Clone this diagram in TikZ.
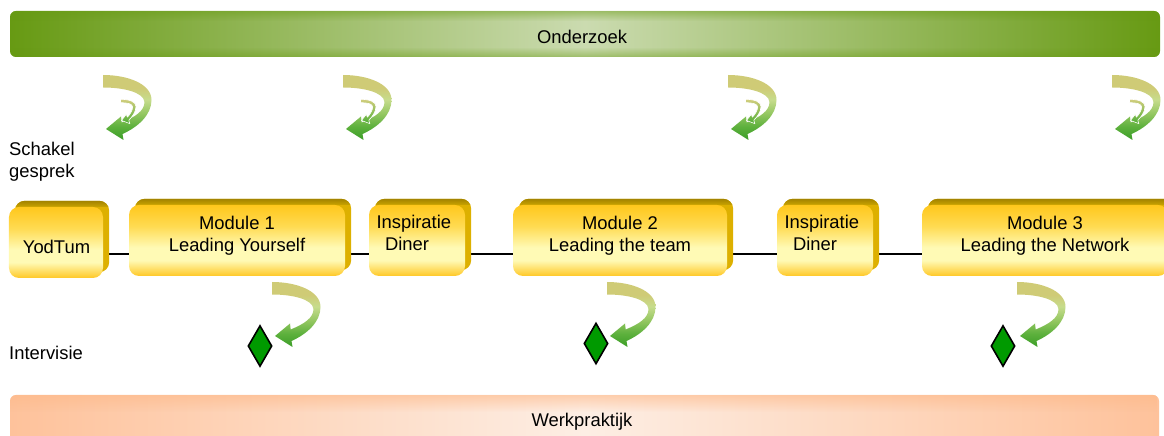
\documentclass[tikz,border=0pt]{standalone}
\usepackage{fontspec}
\setmainfont{Liberation Sans}
\usetikzlibrary{calc,shapes.geometric,fadings}

% palette
\definecolor{barG}{HTML}{679A13}
\definecolor{barL}{HTML}{CBDBB0}
\definecolor{peachE}{HTML}{FEC29B}
\definecolor{peachM}{HTML}{FDEEE4}
\definecolor{peachT}{HTML}{FDB989}
\definecolor{boxT}{HTML}{FFC71C}
\definecolor{boxM}{HTML}{FFDB52}
\definecolor{boxP}{HTML}{FFFAB5}
\definecolor{boxB}{HTML}{FFC826}
\definecolor{sideDark}{HTML}{9C7E00}
\definecolor{sideMid}{HTML}{C9A200}
\definecolor{sideGold}{HTML}{DDB000}
\definecolor{curlK}{HTML}{CFCB76}
\definecolor{curlL}{HTML}{C6DC8C}
\definecolor{curlM}{HTML}{92C660}
\definecolor{curlN}{HTML}{5CB03C}
\definecolor{curlG}{HTML}{3C9E28}
\definecolor{smallK}{HTML}{D2CE7E}
\definecolor{smallG}{HTML}{4FAE34}
\definecolor{gemG}{HTML}{009A00}

% vertical shadings (0bp = bottom, the shaded path spans 25bp..75bp)
\pgfdeclareverticalshading{boxfill}{100bp}{color(0bp)=(boxB); color(25bp)=(boxB);
  color(36bp)=(boxP); color(45bp)=(boxP); color(60bp)=(boxM); color(75bp)=(boxT); color(100bp)=(boxT)}
\pgfdeclareverticalshading{curlfill}{100bp}{color(0bp)=(curlG); color(25bp)=(curlG);
  color(35bp)=(curlN); color(45bp)=(curlM); color(56bp)=(curlL); color(65bp)=(curlK); color(100bp)=(curlK)}

\tikzfading[name=fadedown, top color=transparent!0, bottom color=transparent!100]
\tikzfading[name=fadeup, top color=transparent!100, bottom color=transparent!0]

\pgfdeclarelayer{bg}
\pgfdeclarelayer{back}
\pgfsetlayers{bg,back,main}

% extruded top and right side of a tile
\newcommand\tileside[1]{%
  \fill[sideGold, rounded corners=10bp] ($(#1.south west)+(6,-6)$) rectangle ($(#1.north east)+(6,-6)$);
  \begin{scope}
    \clip[rounded corners=10bp] ($(#1.south west)+(6,-6)$) rectangle ($(#1.north east)+(6,-6)$);
    \shade[top color=sideDark, bottom color=sideMid] ($(#1.north west)+(0,-7)$) rectangle ($(#1.north east)+(7,0)$);
  \end{scope}}

\begin{document}
\begin{tikzpicture}[x=1bp, y=-1bp,
  lbl/.style={font=\fontsize{18.4bp}{22bp}\selectfont, inner sep=0pt, text=black},
  tile/.style={rectangle, rounded corners=10bp, shade, shading=boxfill, inner sep=0pt, minimum height=71bp},
  conn/.style={draw=black, line width=2bp},
  gem/.style={diamond, draw=black, line width=1.6bp, fill=gemG, minimum width=24bp,
    minimum height=41bp, inner sep=0pt, shape aspect=0.585},
  curl/.pic={
    \shade[shading=curlfill]
      (0,0) .. controls (25,0) and (48.5,9) .. (48.5,25)
      .. controls (48.5,40) and (35,52) .. (19.5,59)
      -- (20.5,65) -- (3,54) -- (18,41.5) -- (18.7,47.5)
      .. controls (32,42) and (41.5,36) .. (41.5,27)
      .. controls (40.5,17) and (20,12.5) .. (0,12.5) -- cycle;
  },
  twincurl/.pic={
    \pic {curl};
    \shadedraw[top color=smallK, bottom color=smallG, draw=white, line width=0.6bp, line join=round]
      (17.5,24.3) .. controls (27,24.3) and (33,27) .. (33,31.5)
      .. controls (33,37) and (29,42) .. (25.8,45.2)
      -- (26.8,48.6) -- (18.5,45.5) -- (23.3,39.3) -- (24.4,42.2)
      .. controls (27.5,39) and (29.6,35) .. (29.6,32)
      .. controls (29.6,29) and (25,27.7) .. (17.5,27.7) -- cycle;
  }
]
\useasboundingbox (0,0) rectangle (1164,436);
\begin{pgfonlayer}{bg}
  \fill[white] (0,0) rectangle (1164,436);
\end{pgfonlayer}

% research bar
\shade[left color=barG, right color=barG, middle color=barL, rounded corners=6bp] (10,11) rectangle (1160,57);
\begin{scope}
  \clip[rounded corners=6bp] (10,11) rectangle (1160,57);
  \fill[barG, path fading=fadedown, opacity=0.45] (10,11) rectangle (1160,21);
  \fill[barG, path fading=fadeup, opacity=0.45] (10,47) rectangle (1160,57);
\end{scope}
\node[lbl] (onderzoek) at (582,37) {Onderzoek};

% work practice bar
\shade[left color=peachE, right color=peachE, middle color=peachM, rounded corners=6bp] (10,395) rectangle (1159,450);
\begin{scope}
  \clip[rounded corners=6bp] (10,395) rectangle (1159,450);
  \fill[peachT, path fading=fadedown, opacity=0.6] (10,395) rectangle (1159,412);
\end{scope}
\node[lbl, anchor=base] (werk) at (582,426.5) {Werkpraktijk};

% side labels
\node[lbl, anchor=north west, align=left] (schakel) at (9,141.8) {Schakel\\gesprek};
\node[lbl, anchor=base west] (intervisie) at (9,359.3) {Intervisie};

% programme tiles
\node[tile, minimum width=94bp] (yod) at (56,242.5) {};
\node[tile, minimum width=216bp] (m1) at (237,240.5) {};
\node[tile, minimum width=96bp] (in1) at (417,240.5) {};
\node[tile, minimum width=214bp] (m2) at (620,240.5) {};
\node[tile, minimum width=96bp] (in2) at (825,240.5) {};
\node[tile, minimum width=246bp] (m3) at (1045,240.5) {};

\node[lbl, anchor=base] (yodt) at (56.5,253.3) {YodTum};
\node[lbl, anchor=north, align=center] (m1t) at (237,216.1) {Module 1\\Leading Yourself};
\node[lbl, anchor=north, align=center] (m2t) at (620,216.1) {Module 2\\Leading the team};
\node[lbl, anchor=north, align=center] (m3t) at (1045,216.1) {Module 3\\Leading the Network};
\node[lbl, anchor=north west, align=left] (in1t) at (376.3,215.1) {Inspiratie\\\hspace*{8.5bp}Diner};
\node[lbl, anchor=north west, align=left] (in2t) at (784.3,215.1) {Inspiratie\\\hspace*{8.5bp}Diner};

\coordinate (lane) at (0,254);
\begin{pgfonlayer}{back}
  \draw[conn] (yod.east |- lane) -- (m1.west |- lane);
  \draw[conn] (m1.east |- lane) -- (in1.west |- lane);
  \draw[conn] (in1.east |- lane) -- (m2.west |- lane);
  \draw[conn] (m2.east |- lane) -- (in2.west |- lane);
  \draw[conn] (in2.east |- lane) -- (m3.west |- lane);
  \tileside{yod}
  \tileside{m1}
  \tileside{in1}
  \tileside{m2}
  \tileside{in2}
  \tileside{m3}
\end{pgfonlayer}

% linking conversations
\pic at (103,75) {twincurl};
\pic at (343,75) {twincurl};
\pic at (728,75) {twincurl};
\pic at (1112,75) {twincurl};

% peer review
\pic at (272,282) {curl};
\pic at (607,282) {curl};
\pic at (1017,282) {curl};
\node[gem] (g1) at (260,346) {};
\node[gem] (g2) at (596,343.5) {};
\node[gem] (g3) at (1003,346) {};
\end{tikzpicture}
\end{document}
